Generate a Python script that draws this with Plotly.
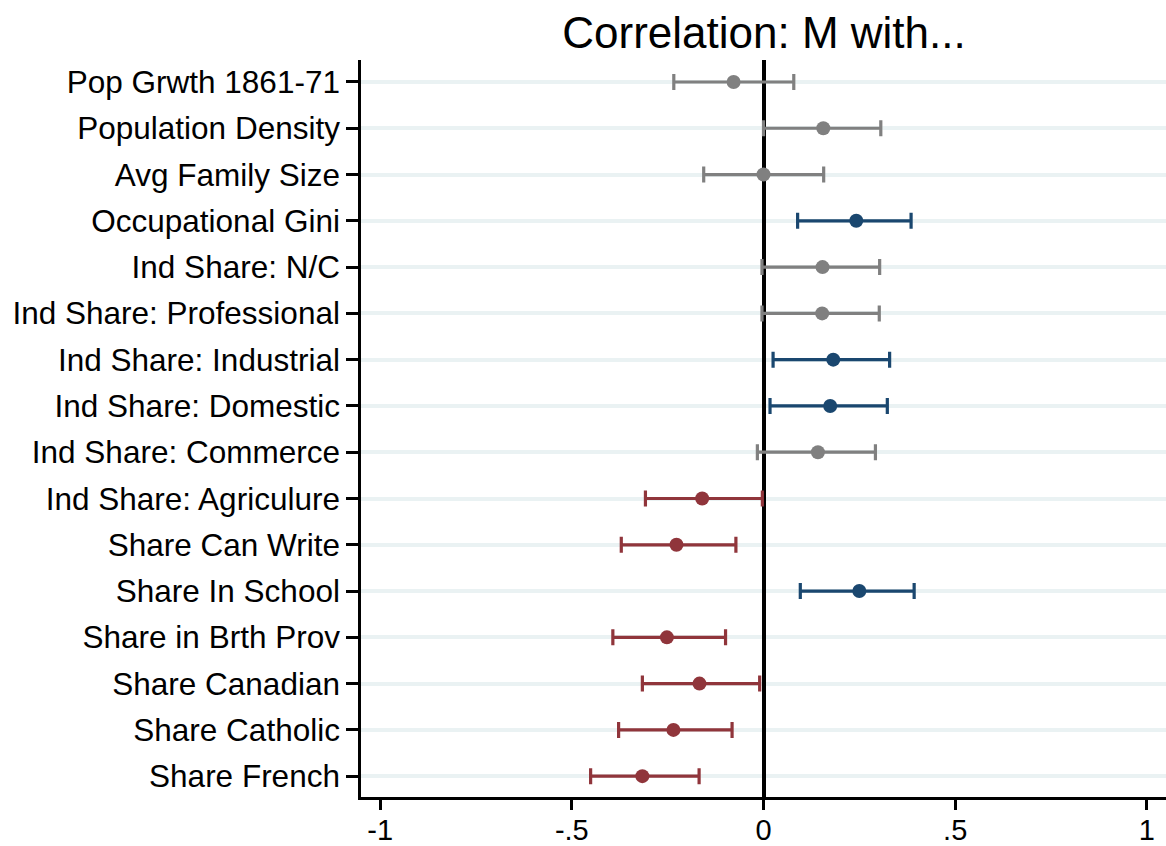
import plotly.graph_objects as go

labels = ["Pop Grwth 1861-71", "Population Density", "Avg Family Size", "Occupational Gini",
          "Ind Share: N/C", "Ind Share: Professional", "Ind Share: Industrial", "Ind Share: Domestic",
          "Ind Share: Commerce", "Ind Share: Agriculure", "Share Can Write", "Share In School",
          "Share in Brth Prov", "Share Canadian", "Share Catholic", "Share French"]
estimate = [-0.078, 0.156, 0.000, 0.242, 0.154, 0.153, 0.182, 0.174,
            0.142, -0.160, -0.227, 0.250, -0.252, -0.167, -0.235, -0.316]
lower = [-0.234, 0.000, -0.156, 0.089, -0.004, -0.004, 0.025, 0.017,
         -0.016, -0.308, -0.371, 0.096, -0.393, -0.316, -0.378, -0.451]
upper = [0.079, 0.306, 0.157, 0.385, 0.303, 0.302, 0.329, 0.323,
         0.292, -0.003, -0.072, 0.393, -0.099, -0.010, -0.082, -0.168]
group = ["ns", "ns", "ns", "pos", "ns", "ns", "pos", "pos",
         "ns", "neg", "neg", "pos", "neg", "neg", "neg", "neg"]
colors = {"ns": "#808080", "pos": "#1a476f", "neg": "#90353b"}
xticks = [-1, -0.5, 0, 0.5, 1]
xticklabels = ["-1", "-.5", "0", ".5", "1"]

fig = go.Figure()
for g in ["ns", "pos", "neg"]:
    idx = [i for i, v in enumerate(group) if v == g]
    fig.add_trace(go.Scatter(
        x=[estimate[i] for i in idx],
        y=[labels[i] for i in idx],
        mode="markers",
        marker=dict(color=colors[g], size=14),
        error_x=dict(type="data", symmetric=False,
                     array=[upper[i] - estimate[i] for i in idx],
                     arrayminus=[estimate[i] - lower[i] for i in idx],
                     color=colors[g], thickness=3.2, width=8),
        showlegend=False,
    ))

fig.update_layout(
    width=1166, height=846,
    margin=dict(l=361, r=0, t=60, b=49),
    paper_bgcolor="white", plot_bgcolor="white",
    font=dict(family="Liberation Sans, Arial, sans-serif", color="black"),
    title=dict(text="Correlation: M with...", x=764/1166, xanchor="center",
               y=1 - 33/846, yanchor="middle", yref="container",
               font=dict(size=44, color="black")),
    xaxis=dict(range=[-1.05, 1.05], tickvals=xticks, ticktext=xticklabels,
               showgrid=False, zeroline=True, zerolinecolor="black", zerolinewidth=3.5,
               showline=True, linecolor="black", linewidth=2.5,
               ticks="outside", ticklen=10, tickwidth=2.5, tickcolor="black",
               tickfont=dict(size=29), ticklabelstandoff=-5, automargin=False),
    yaxis=dict(categoryorder="array", categoryarray=labels, range=[15.45, -0.475],
               showgrid=True, gridcolor="#eaf2f3", gridwidth=3.5,
               zeroline=False, showline=True, linecolor="black", linewidth=2.5,
               ticks="outside", ticklen=12, tickwidth=2.5, tickcolor="black",
               tickfont=dict(size=31.5), automargin=False),
)

fig.write_html("out.html")
